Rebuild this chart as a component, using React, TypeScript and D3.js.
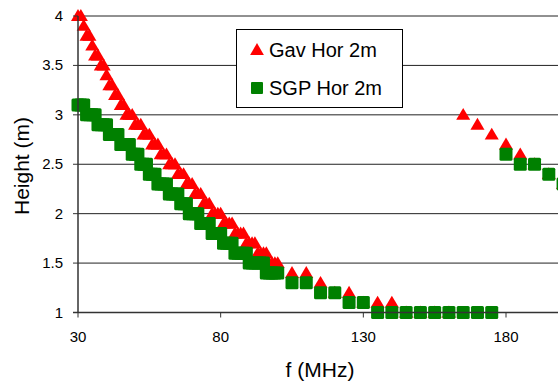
import React from "react";
import * as d3 from "d3";

// frequencies (MHz): 1 MHz steps up to 100, then 5 MHz steps
const freqs = [
  30, 31, 32, 33, 34, 35, 36, 37, 38, 39,
  40, 41, 42, 43, 44, 45, 46, 47, 48, 49,
  50, 51, 52, 53, 54, 55, 56, 57, 58, 59,
  60, 61, 62, 63, 64, 65, 66, 67, 68, 69,
  70, 71, 72, 73, 74, 75, 76, 77, 78, 79,
  80, 81, 82, 83, 84, 85, 86, 87, 88, 89,
  90, 91, 92, 93, 94, 95, 96, 97, 98, 99,
  100, 105, 110, 115, 120, 125, 130, 135, 140, 145,
  150, 155, 160, 165, 170, 175, 180, 185, 190, 195,
  200,
];

// Gav Hor 2m
const gavHeights = [
  4.0, 4.0, 3.9, 3.8, 3.8, 3.7, 3.6, 3.6, 3.5, 3.5,
  3.4, 3.3, 3.3, 3.2, 3.2, 3.1, 3.1, 3.0, 3.0, 3.0,
  2.9, 2.9, 2.9, 2.8, 2.8, 2.8, 2.7, 2.7, 2.7, 2.6,
  2.6, 2.6, 2.5, 2.5, 2.5, 2.4, 2.4, 2.4, 2.3, 2.3,
  2.3, 2.2, 2.2, 2.2, 2.1, 2.1, 2.1, 2.0, 2.0, 2.0,
  2.0, 1.9, 1.9, 1.9, 1.9, 1.8, 1.8, 1.8, 1.8, 1.7,
  1.7, 1.7, 1.7, 1.6, 1.6, 1.6, 1.6, 1.5, 1.5, 1.5,
  1.5, 1.4, 1.4, 1.3, 1.2, 1.2, 1.1, 1.1, 1.1, 1.0,
  1.0, 1.0, 1.0, 3.0, 2.9, 2.8, 2.7, 2.6, 2.5, 2.4,
  2.3,
];

// SGP Hor 2m
const sgpHeights = [
  3.1, 3.1, 3.1, 3.0, 3.0, 3.0, 3.0, 2.9, 2.9, 2.9,
  2.9, 2.8, 2.8, 2.8, 2.8, 2.7, 2.7, 2.7, 2.7, 2.6,
  2.6, 2.6, 2.5, 2.5, 2.5, 2.4, 2.4, 2.4, 2.3, 2.3,
  2.3, 2.3, 2.2, 2.2, 2.2, 2.2, 2.1, 2.1, 2.1, 2.0,
  2.0, 2.0, 2.0, 1.9, 1.9, 1.9, 1.9, 1.8, 1.8, 1.8,
  1.8, 1.7, 1.7, 1.7, 1.7, 1.6, 1.6, 1.6, 1.6, 1.6,
  1.5, 1.5, 1.5, 1.5, 1.5, 1.5, 1.4, 1.4, 1.4, 1.4,
  1.4, 1.3, 1.3, 1.2, 1.2, 1.1, 1.1, 1.0, 1.0, 1.0,
  1.0, 1.0, 1.0, 1.0, 1.0, 1.0, 2.6, 2.5, 2.5, 2.4,
  2.3,
];

const xTicks = [30, 80, 130, 180];
const yTicks = [1, 1.5, 2, 2.5, 3, 3.5, 4];
const seriesNames = ["Gav Hor 2m", "SGP Hor 2m"];

const W = 558;
const H = 381;
const FONT = "'Liberation Sans', Arial, sans-serif";

export default function App() {
  const x = d3.scaleLinear().domain([30, 180]).range([78, 506]);
  const y = d3.scaleLinear().domain([1, 4]).range([312.5, 16]);
  const plotRight = 620;

  const tri = d3.symbol().type(d3.symbolTriangle).size(82)();

  return (
    <svg
      width={W}
      height={H}
      style={{ position: "absolute", left: 0, top: 0, background: "#fff" }}
      fontFamily={FONT}
    >
      {/* gridlines */}
      {yTicks.slice(1).map((t) => (
        <line key={t} x1={x(30)} x2={plotRight} y1={y(t)} y2={y(t)} stroke="#222" strokeWidth={1} />
      ))}

      {/* markers */}
      <g>
        {freqs.map((f, i) => (
          <path
            key={"g" + f}
            d={tri}
            transform={`translate(${x(f)},${y(gavHeights[i]) + 1}) scale(1.02,1)`}
            fill="#ff0000"
          />
        ))}
        {freqs.map((f, i) => (
          <rect
            key={"s" + f}
            x={x(f) - 6.5}
            y={y(sgpHeights[i]) - 6.5}
            width={13}
            height={13}
            rx={1.5}
            fill="#008000"
          />
        ))}
      </g>

      {/* axes */}
      <line x1={x(30)} x2={x(30)} y1={y(4)} y2={y(1)} stroke="#333" strokeWidth={1.5} />
      <line x1={x(30) - 5} x2={plotRight} y1={y(1)} y2={y(1)} stroke="#333" strokeWidth={1.5} />
      {yTicks.map((t) => (
        <g key={"yt" + t}>
          <line x1={x(30) - 5} x2={x(30)} y1={y(t)} y2={y(t)} stroke="#333" />
          <text x={63} y={y(t) + 5} textAnchor="end" fontSize={15}>
            {t}
          </text>
        </g>
      ))}
      {xTicks.map((t) => (
        <g key={"xt" + t}>
          <line x1={x(t)} x2={x(t)} y1={y(1)} y2={y(1) + 5} stroke="#333" />
          <text x={x(t)} y={342} textAnchor="middle" fontSize={15}>
            {t}
          </text>
        </g>
      ))}

      {/* axis titles */}
      <text x={320} y={377} textAnchor="middle" fontSize={21}>
        f (MHz)
      </text>
      <text
        transform={`translate(29,166) rotate(-90)`}
        textAnchor="middle"
        fontSize={21}
      >
        Height (m)
      </text>

      {/* legend */}
      <g>
        <rect x={236.5} y={29.5} width={166} height={78} fill="#fff" stroke="#000" />
        <path d={tri} transform={`translate(257,51)`} fill="#ff0000" />
        <text x={269} y={57} fontSize={20}>
          {seriesNames[0]}
        </text>
        <rect x={251} y={82} width={12} height={12} rx={1} fill="#008000" />
        <text x={269} y={95} fontSize={20}>
          {seriesNames[1]}
        </text>
      </g>
    </svg>
  );
}
